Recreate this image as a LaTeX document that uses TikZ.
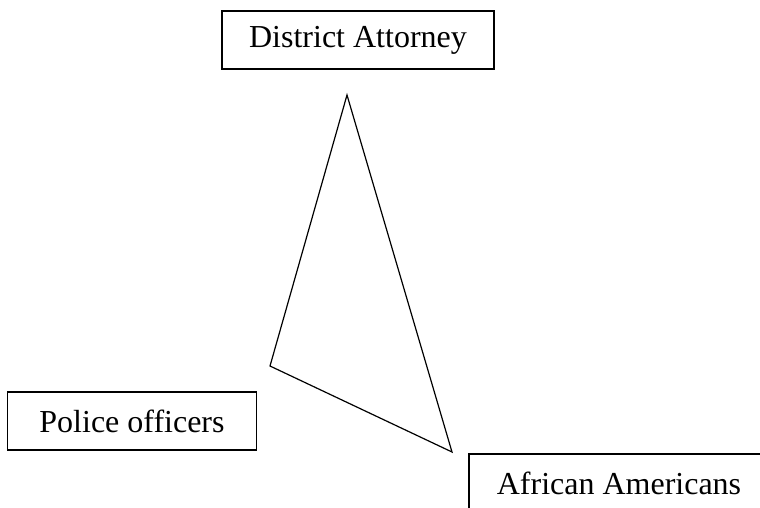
\documentclass[tikz,border=0pt]{standalone}
\usepackage{fontspec}
\setmainfont{Liberation Serif}
\begin{document}
\begin{tikzpicture}[x=1pt,y=-1pt,line width=1.2pt]
  \tikzset{party/.style={draw,line width=1.2pt,minimum height=58pt,inner sep=0pt,font=\fontsize{32}{36}\selectfont}}
  \useasboundingbox (0,0) rectangle (760,508);
  \clip (0,0) rectangle (760,508);
  \node[party,minimum width=272pt] (da) at (358,40) {District Attorney};
  \node[party,minimum width=249pt] (police) at (132,421) {Police officers};
  \node[party,minimum width=300pt] (aa) at (619,483) {African Americans};
  % triangle between the three
  \coordinate (top) at (347,95);
  \coordinate (left) at (270,366);
  \coordinate (right) at (452,452);
  \draw[line join=miter] (top) -- (right) -- (left) -- cycle;
\end{tikzpicture}
\end{document}
